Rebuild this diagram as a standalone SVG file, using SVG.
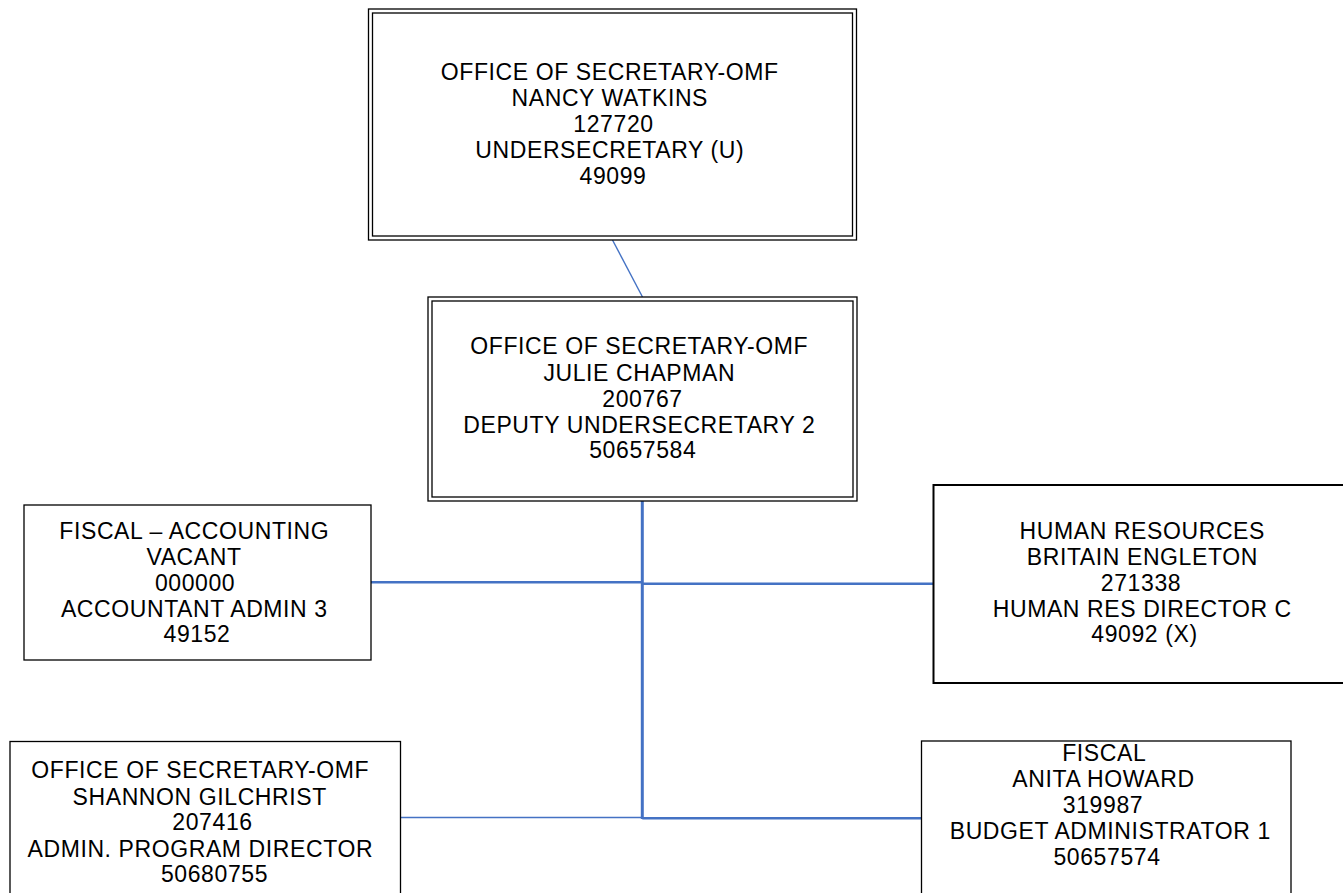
<svg xmlns="http://www.w3.org/2000/svg" width="1343" height="893" viewBox="0 0 1343 893">
  <style>
    .box { fill: #ffffff; stroke: #000000; stroke-width: 1.3; }
    .box-heavy { fill: #ffffff; stroke: #000000; stroke-width: 2; }
    .lbl { font-family: "Liberation Sans", Arial, sans-serif; font-size: 23px; letter-spacing: 0.6px; fill: #000000; text-anchor: middle; }
    .wire { fill: none; stroke: #4472C4; stroke-linecap: butt; }
    .thin { stroke-width: 1.4; }
    .mid { stroke-width: 2.4; }
    .thick { stroke-width: 3; }
  </style>

  <rect width="1343" height="893" fill="#ffffff"/>

  <!-- connectors -->
  <g id="connectors">
    <line class="wire thin" x1="612.5" y1="240" x2="642.5" y2="297"/>
    <line class="wire thick" x1="642.3" y1="501" x2="642.3" y2="819"/>
    <line class="wire mid" x1="371" y1="582.3" x2="642.3" y2="582.3"/>
    <line class="wire mid" x1="642.3" y1="583.7" x2="933" y2="583.7"/>
    <line class="wire thin" x1="401" y1="817.5" x2="642.3" y2="817.5"/>
    <line class="wire mid" x1="642.3" y1="818.3" x2="922" y2="818.3"/>
  </g>

  <!-- Undersecretary -->
  <g id="node-undersecretary">
    <rect class="box" x="368.5" y="9" width="488" height="231"/>
    <rect class="box" x="372.5" y="13" width="480" height="223"/>
    <text class="lbl">
      <tspan x="613.3" y="80">OFFICE OF SECRETARY-OMF</tspan>
      <tspan x="613.3" y="106">NANCY WATKINS</tspan>
      <tspan x="617" y="131.5">127720</tspan>
      <tspan x="613.3" y="158">UNDERSECRETARY (U)</tspan>
      <tspan x="613" y="183.5">49099</tspan>
    </text>
  </g>

  <!-- Deputy Undersecretary -->
  <g id="node-deputy">
    <rect class="box" x="428" y="297" width="429" height="204"/>
    <rect class="box" x="432" y="301" width="421" height="196"/>
    <text class="lbl">
      <tspan x="642.8" y="354">OFFICE OF SECRETARY-OMF</tspan>
      <tspan x="642.8" y="380.5">JULIE CHAPMAN</tspan>
      <tspan x="646" y="406.5">200767</tspan>
      <tspan x="642.8" y="432.5">DEPUTY UNDERSECRETARY 2</tspan>
      <tspan x="642.8" y="458">50657584</tspan>
    </text>
  </g>

  <!-- Fiscal - Accounting -->
  <g id="node-fiscal-accounting">
    <rect class="box" x="24" y="505" width="347" height="155"/>
    <text class="lbl">
      <tspan x="197.8" y="538.5">FISCAL – ACCOUNTING</tspan>
      <tspan x="197.3" y="565">VACANT</tspan>
      <tspan x="198.6" y="591">000000</tspan>
      <tspan x="197.8" y="617">ACCOUNTANT ADMIN 3</tspan>
      <tspan x="197" y="642">49152</tspan>
    </text>
  </g>

  <!-- Human Resources -->
  <g id="node-human-resources">
    <rect class="box-heavy" x="933.5" y="485" width="424" height="198"/>
    <text class="lbl">
      <tspan x="1145.8" y="539">HUMAN RESOURCES</tspan>
      <tspan x="1145.8" y="565">BRITAIN ENGLETON</tspan>
      <tspan x="1144.5" y="591">271338</tspan>
      <tspan x="1145.8" y="617">HUMAN RES DIRECTOR C</tspan>
      <tspan x="1144.5" y="642">49092 (X)</tspan>
    </text>
  </g>

  <!-- Admin. Program Director -->
  <g id="node-admin-program">
    <rect class="box" x="10" y="741.5" width="390.5" height="170"/>
    <text class="lbl">
      <tspan x="203.8" y="778">OFFICE OF SECRETARY-OMF</tspan>
      <tspan x="203" y="804.5">SHANNON GILCHRIST</tspan>
      <tspan x="216" y="830">207416</tspan>
      <tspan x="203.8" y="856.5">ADMIN. PROGRAM DIRECTOR</tspan>
      <tspan x="214.5" y="882">50680755</tspan>
    </text>
  </g>

  <!-- Fiscal - Budget -->
  <g id="node-fiscal-budget">
    <rect class="box" x="921.5" y="741" width="369.5" height="170"/>
    <text class="lbl">
      <tspan x="1107.3" y="760.5">FISCAL</tspan>
      <tspan x="1107" y="786.5">ANITA HOWARD</tspan>
      <tspan x="1106.5" y="812.5">319987</tspan>
      <tspan x="1113.8" y="838.5">BUDGET ADMINISTRATOR 1</tspan>
      <tspan x="1107" y="864.5">50657574</tspan>
    </text>
  </g>
</svg>
